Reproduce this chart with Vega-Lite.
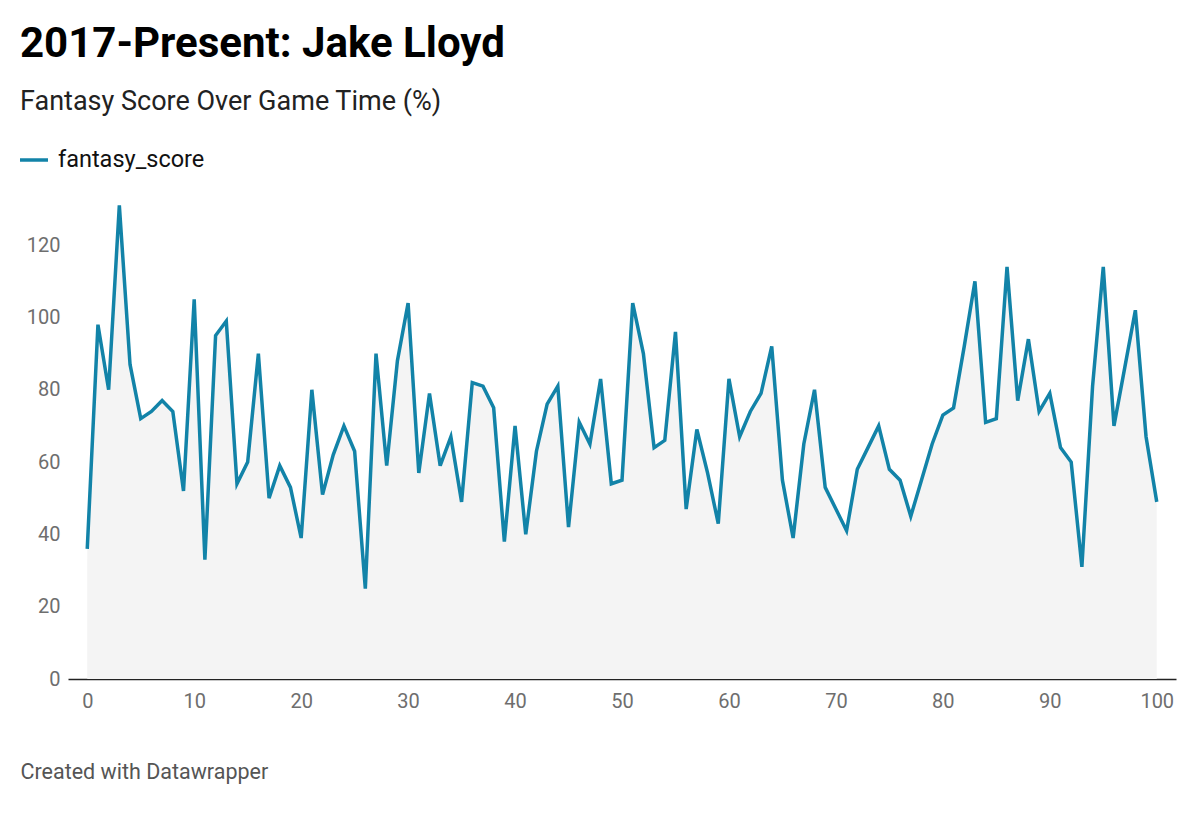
{
  "$schema": "https://vega.github.io/schema/vega-lite/v6.json",
  "autosize": {"type": "none"},
  "width": 1108,
  "height": 470,
  "padding": {"left": 68, "top": 209, "right": 24, "bottom": 134},
  "background": "white",
  "title": {
    "text": "2017-Present: Jake Lloyd",
    "subtitle": "Fantasy Score Over Game Time (%)",
    "anchor": "start",
    "frame": "group",
    "dx": -48,
    "offset": 28,
    "font": "Roboto",
    "fontSize": 42,
    "fontWeight": "bold",
    "color": "#000000",
    "subtitleFont": "Roboto",
    "subtitleFontSize": 27,
    "subtitleColor": "#222222",
    "subtitlePadding": 23
  },
  "data": {
    "values": [
      {"time": 0, "fantasy_score": 36}, {"time": 1, "fantasy_score": 98}, {"time": 2, "fantasy_score": 80},
      {"time": 3, "fantasy_score": 131}, {"time": 4, "fantasy_score": 87}, {"time": 5, "fantasy_score": 72},
      {"time": 6, "fantasy_score": 74}, {"time": 7, "fantasy_score": 77}, {"time": 8, "fantasy_score": 74},
      {"time": 9, "fantasy_score": 52}, {"time": 10, "fantasy_score": 105}, {"time": 11, "fantasy_score": 33},
      {"time": 12, "fantasy_score": 95}, {"time": 13, "fantasy_score": 99}, {"time": 14, "fantasy_score": 54},
      {"time": 15, "fantasy_score": 60}, {"time": 16, "fantasy_score": 90}, {"time": 17, "fantasy_score": 50},
      {"time": 18, "fantasy_score": 59}, {"time": 19, "fantasy_score": 53}, {"time": 20, "fantasy_score": 39},
      {"time": 21, "fantasy_score": 80}, {"time": 22, "fantasy_score": 51}, {"time": 23, "fantasy_score": 62},
      {"time": 24, "fantasy_score": 70}, {"time": 25, "fantasy_score": 63}, {"time": 26, "fantasy_score": 25},
      {"time": 27, "fantasy_score": 90}, {"time": 28, "fantasy_score": 59}, {"time": 29, "fantasy_score": 88},
      {"time": 30, "fantasy_score": 104}, {"time": 31, "fantasy_score": 57}, {"time": 32, "fantasy_score": 79},
      {"time": 33, "fantasy_score": 59}, {"time": 34, "fantasy_score": 67}, {"time": 35, "fantasy_score": 49},
      {"time": 36, "fantasy_score": 82}, {"time": 37, "fantasy_score": 81}, {"time": 38, "fantasy_score": 75},
      {"time": 39, "fantasy_score": 38}, {"time": 40, "fantasy_score": 70}, {"time": 41, "fantasy_score": 40},
      {"time": 42, "fantasy_score": 63}, {"time": 43, "fantasy_score": 76}, {"time": 44, "fantasy_score": 81},
      {"time": 45, "fantasy_score": 42}, {"time": 46, "fantasy_score": 71}, {"time": 47, "fantasy_score": 65},
      {"time": 48, "fantasy_score": 83}, {"time": 49, "fantasy_score": 54}, {"time": 50, "fantasy_score": 55},
      {"time": 51, "fantasy_score": 104}, {"time": 52, "fantasy_score": 90}, {"time": 53, "fantasy_score": 64},
      {"time": 54, "fantasy_score": 66}, {"time": 55, "fantasy_score": 96}, {"time": 56, "fantasy_score": 47},
      {"time": 57, "fantasy_score": 69}, {"time": 58, "fantasy_score": 57}, {"time": 59, "fantasy_score": 43},
      {"time": 60, "fantasy_score": 83}, {"time": 61, "fantasy_score": 67}, {"time": 62, "fantasy_score": 74},
      {"time": 63, "fantasy_score": 79}, {"time": 64, "fantasy_score": 92}, {"time": 65, "fantasy_score": 55},
      {"time": 66, "fantasy_score": 39}, {"time": 67, "fantasy_score": 65}, {"time": 68, "fantasy_score": 80},
      {"time": 69, "fantasy_score": 53}, {"time": 70, "fantasy_score": 47}, {"time": 71, "fantasy_score": 41},
      {"time": 72, "fantasy_score": 58}, {"time": 73, "fantasy_score": 64}, {"time": 74, "fantasy_score": 70},
      {"time": 75, "fantasy_score": 58}, {"time": 76, "fantasy_score": 55}, {"time": 77, "fantasy_score": 45},
      {"time": 78, "fantasy_score": 55}, {"time": 79, "fantasy_score": 65}, {"time": 80, "fantasy_score": 73},
      {"time": 81, "fantasy_score": 75}, {"time": 82, "fantasy_score": 92}, {"time": 83, "fantasy_score": 110},
      {"time": 84, "fantasy_score": 71}, {"time": 85, "fantasy_score": 72}, {"time": 86, "fantasy_score": 114},
      {"time": 87, "fantasy_score": 77}, {"time": 88, "fantasy_score": 94}, {"time": 89, "fantasy_score": 74},
      {"time": 90, "fantasy_score": 79}, {"time": 91, "fantasy_score": 64}, {"time": 92, "fantasy_score": 60},
      {"time": 93, "fantasy_score": 31}, {"time": 94, "fantasy_score": 81}, {"time": 95, "fantasy_score": 114},
      {"time": 96, "fantasy_score": 70}, {"time": 97, "fantasy_score": 86}, {"time": 98, "fantasy_score": 102},
      {"time": 99, "fantasy_score": 67}, {"time": 100, "fantasy_score": 49}
    ]
  },
  "encoding": {
    "x": {
      "field": "time",
      "type": "quantitative",
      "scale": {"domain": [-1.8, 101.8], "nice": false, "zero": false},
      "axis": {
        "values": [0, 10, 20, 30, 40, 50, 60, 70, 80, 90, 100],
        "title": "Created with Datawrapper",
        "titleAnchor": "start",
        "titleAlign": "left",
        "titleBaseline": "alphabetic",
        "titleX": -48,
        "titleY": 99,
        "titleFont": "Roboto",
        "titleFontSize": 21.5,
        "titleFontWeight": "normal",
        "titleColor": "#555555",
        "grid": false,
        "ticks": false,
        "domainColor": "#222222",
        "domainWidth": 1.5,
        "labelFont": "Roboto",
        "labelFontSize": 20,
        "labelColor": "#6e6e6e",
        "labelPadding": 12
      }
    },
    "y": {
      "field": "fantasy_score",
      "type": "quantitative",
      "scale": {"domain": [0, 130], "nice": false},
      "axis": {
        "values": [0, 20, 40, 60, 80, 100, 120],
        "title": null,
        "grid": false,
        "ticks": false,
        "domain": false,
        "labelFont": "Roboto",
        "labelFontSize": 20,
        "labelColor": "#6e6e6e",
        "labelPadding": 8
      }
    }
  },
  "layer": [
    {
      "mark": {"type": "area", "color": "#f4f4f4", "clip": false}
    },
    {
      "mark": {"type": "line", "strokeWidth": 3.5, "clip": false},
      "encoding": {
        "color": {
          "datum": "fantasy_score",
          "type": "nominal",
          "scale": {"range": ["#1283a8"]},
          "legend": {
            "title": null,
            "orient": "none",
            "legendX": -50,
            "legendY": -65,
            "symbolType": "stroke",
            "symbolSize": 784,
            "symbolStrokeWidth": 3.5,
            "labelFont": "Roboto",
            "labelFontSize": 23.5,
            "labelColor": "#111111",
            "labelOffset": 8
          }
        }
      }
    }
  ],
  "config": {"view": {"stroke": null}}
}
